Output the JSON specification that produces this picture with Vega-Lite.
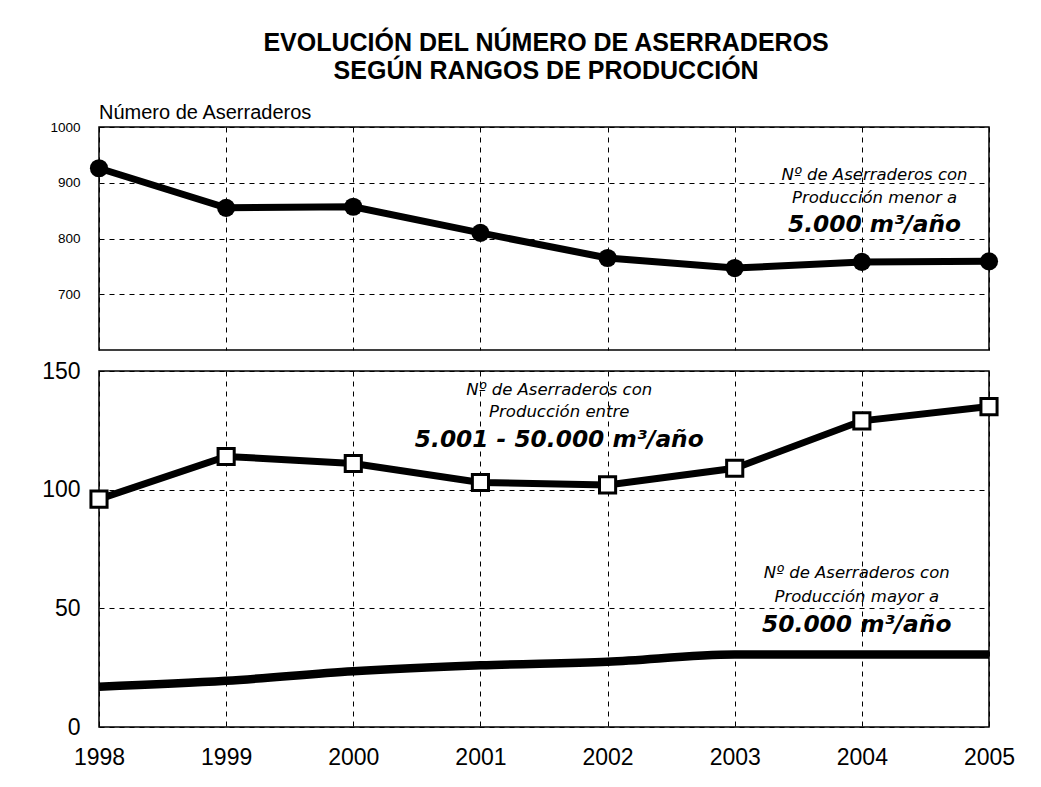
{
  "$schema": "https://vega.github.io/schema/vega-lite/v6.json",
  "padding": {"left": 40, "top": 31, "right": 10, "bottom": 10},
  "background": "white",
  "config": {
    "font": "Liberation Sans",
    "view": {"stroke": "black", "strokeWidth": 1.5},
    "axis": {"domain": false, "ticks": false, "gridColor": "black", "gridDash": [5, 5], "gridOpacity": 1, "gridWidth": 1, "labelColor": "black", "labelFont": "Liberation Sans"}
  },
  "title": {
    "text": ["EVOLUCIÓN DEL NÚMERO DE ASERRADEROS", "SEGÚN RANGOS DE PRODUCCIÓN"],
    "fontSize": 25, "fontWeight": "bold", "font": "Liberation Sans", "lineHeight": 28,
    "anchor": "middle", "color": "black", "offset": 18, "dx": 18
  },
  "datasets": {
    "menor": [
      {"year": 1998, "value": 926}, {"year": 1999, "value": 855}, {"year": 2000, "value": 857},
      {"year": 2001, "value": 810}, {"year": 2002, "value": 765}, {"year": 2003, "value": 747},
      {"year": 2004, "value": 758}, {"year": 2005, "value": 759}
    ],
    "entre": [
      {"year": 1998, "value": 96}, {"year": 1999, "value": 114}, {"year": 2000, "value": 111},
      {"year": 2001, "value": 103}, {"year": 2002, "value": 102}, {"year": 2003, "value": 109},
      {"year": 2004, "value": 129}, {"year": 2005, "value": 135}
    ],
    "mayor": [
      {"year": 1998, "value": 17}, {"year": 1999, "value": 19.5}, {"year": 2000, "value": 23.5},
      {"year": 2001, "value": 26}, {"year": 2002, "value": 27.5}, {"year": 2003, "value": 30.5},
      {"year": 2004, "value": 30.5}, {"year": 2005, "value": 30.5}
    ],
    "notas": [
      {"panel": "menor", "role": "label", "x": 2004.1, "y": 914, "texto": "Nº de Aserraderos con"},
      {"panel": "menor", "role": "label", "x": 2004.1, "y": 872, "texto": "Producción menor a"},
      {"panel": "menor", "role": "rango", "x": 2004.1, "y": 824, "texto": "5.000 m³/año"},
      {"panel": "entre", "role": "label", "x": 2001.62, "y": 142, "texto": "Nº de Aserraderos con"},
      {"panel": "entre", "role": "label", "x": 2001.62, "y": 132.7, "texto": "Producción entre"},
      {"panel": "entre", "role": "rango", "x": 2001.62, "y": 121, "texto": "5.001 - 50.000 m³/año"},
      {"panel": "mayor", "role": "label", "x": 2003.96, "y": 64.9, "texto": "Nº de Aserraderos con"},
      {"panel": "mayor", "role": "label", "x": 2003.96, "y": 54.8, "texto": "Producción mayor a"},
      {"panel": "mayor", "role": "rango", "x": 2003.96, "y": 43, "texto": "50.000 m³/año"}
    ]
  },
  "spacing": 8,
  "vconcat": [
    {
      "width": 890,
      "height": 223,
      "title": {"text": "Número de Aserraderos", "anchor": "start", "fontSize": 20, "fontWeight": "normal", "color": "black", "offset": -3, "frame": "group", "font": "Liberation Sans"},
      "encoding": {
        "x": {"field": "year", "type": "quantitative", "title": null,
              "scale": {"domain": [1998, 2005], "nice": false, "zero": false},
              "axis": {"values": [1998, 1999, 2000, 2001, 2002, 2003, 2004, 2005], "labels": false, "grid": true}}
      },
      "layer": [
        {
          "data": {"name": "menor"},
          "mark": {"type": "line", "color": "black", "strokeWidth": 7},
          "encoding": {
            "y": {"field": "value", "type": "quantitative", "title": null,
                  "scale": {"domain": [600, 1000], "nice": false, "zero": false},
                  "axis": {"values": [700, 800, 900, 1000], "format": "d", "labelFontSize": 13.5, "labelPadding": 19, "grid": true}}
          }
        },
        {
          "data": {"name": "menor"},
          "mark": {"type": "point", "shape": "circle", "filled": true, "size": 330, "color": "black", "opacity": 1},
          "encoding": {"y": {"field": "value", "type": "quantitative"}}
        },
        {
          "data": {"name": "notas"},
          "transform": [{"filter": "datum.panel === 'menor' && datum.role === 'label'"}],
          "mark": {"type": "text", "font": "DejaVu Sans", "fontStyle": "italic", "fontSize": 16.5, "color": "black", "align": "center", "baseline": "middle"},
          "encoding": {"x": {"field": "x", "type": "quantitative"}, "y": {"field": "y", "type": "quantitative"}, "text": {"field": "texto"}}
        },
        {
          "data": {"name": "notas"},
          "transform": [{"filter": "datum.panel === 'menor' && datum.role === 'rango'"}],
          "mark": {"type": "text", "font": "DejaVu Sans", "fontStyle": "italic", "fontWeight": "bold", "fontSize": 23.3, "color": "black", "align": "center", "baseline": "middle"},
          "encoding": {"x": {"field": "x", "type": "quantitative"}, "y": {"field": "y", "type": "quantitative"}, "text": {"field": "texto"}}
        }
      ]
    },
    {
      "width": 890,
      "height": 356,
      "encoding": {
        "x": {"field": "year", "type": "quantitative", "title": null,
              "scale": {"domain": [1998, 2005], "nice": false, "zero": false},
              "axis": {"values": [1998, 1999, 2000, 2001, 2002, 2003, 2004, 2005], "format": "d", "labelFontSize": 23, "labelPadding": 19, "grid": true, "labelFlush": false}}
      },
      "layer": [
        {
          "data": {"name": "mayor"},
          "mark": {"type": "line", "color": "black", "strokeWidth": 8.5, "interpolate": "monotone"},
          "encoding": {
            "y": {"field": "value", "type": "quantitative", "title": null,
                  "scale": {"domain": [0, 150], "nice": false},
                  "axis": {"values": [0, 50, 100, 150], "labelFontSize": 23, "labelPadding": 19, "grid": true}}
          }
        },
        {
          "data": {"name": "entre"},
          "mark": {"type": "line", "color": "black", "strokeWidth": 7},
          "encoding": {"y": {"field": "value", "type": "quantitative"}}
        },
        {
          "data": {"name": "entre"},
          "mark": {"type": "point", "shape": "square", "size": 260, "fill": "white", "stroke": "black", "strokeWidth": 3, "opacity": 1, "fillOpacity": 1},
          "encoding": {"y": {"field": "value", "type": "quantitative"}}
        },
        {
          "data": {"name": "notas"},
          "transform": [{"filter": "datum.panel !== 'menor' && datum.role === 'label'"}],
          "mark": {"type": "text", "font": "DejaVu Sans", "fontStyle": "italic", "fontSize": 16.5, "color": "black", "align": "center", "baseline": "middle"},
          "encoding": {"x": {"field": "x", "type": "quantitative"}, "y": {"field": "y", "type": "quantitative"}, "text": {"field": "texto"}}
        },
        {
          "data": {"name": "notas"},
          "transform": [{"filter": "datum.panel !== 'menor' && datum.role === 'rango'"}],
          "mark": {"type": "text", "font": "DejaVu Sans", "fontStyle": "italic", "fontWeight": "bold", "fontSize": 23.3, "color": "black", "align": "center", "baseline": "middle"},
          "encoding": {"x": {"field": "x", "type": "quantitative"}, "y": {"field": "y", "type": "quantitative"}, "text": {"field": "texto"}}
        }
      ]
    }
  ]
}
